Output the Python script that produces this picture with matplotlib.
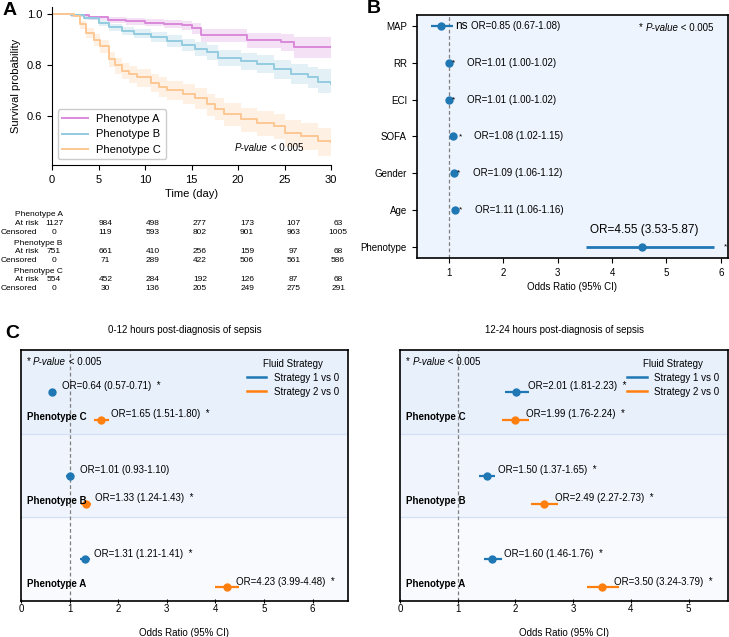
import numpy as np
import matplotlib
matplotlib.use('Agg')
import matplotlib.pyplot as plt

plt.rcParams['font.family'] = ['Liberation Sans', 'DejaVu Sans']

# ---------------- panel A : Kaplan-Meier curves ----------------
t_A = [0, 2, 4, 6, 8, 10, 12, 14, 15, 16, 21, 24.6, 26, 30]
s_A = [1.0, 0.995, 0.987, 0.977, 0.972, 0.967, 0.962, 0.957, 0.945, 0.917, 0.90, 0.892, 0.873, 0.873]
lo_A = [1.0, 0.99, 0.979, 0.966, 0.959, 0.952, 0.945, 0.938, 0.922, 0.89, 0.868, 0.857, 0.829, 0.827]
hi_A = [1.0, 0.999, 0.994, 0.987, 0.984, 0.981, 0.977, 0.974, 0.965, 0.94, 0.928, 0.922, 0.91, 0.911]

t_B = [0, 2, 3.4, 5, 6.1, 7.5, 8.8, 10.6, 12.4, 14, 15.4, 16.7, 17.8, 20.3, 22, 23.9, 25.7, 27.5, 28.6, 30]
s_B = [1.0, 0.995, 0.984, 0.965, 0.948, 0.935, 0.924, 0.911, 0.896, 0.88, 0.863, 0.85, 0.83, 0.817,
       0.804, 0.784, 0.765, 0.752, 0.736, 0.728]
lo_B = [1.0, 0.99, 0.976, 0.953, 0.933, 0.918, 0.905, 0.89, 0.873, 0.855, 0.835, 0.82, 0.798, 0.783,
        0.768, 0.746, 0.725, 0.71, 0.692, 0.67]
hi_B = [1.0, 0.999, 0.991, 0.976, 0.962, 0.951, 0.942, 0.931, 0.918, 0.904, 0.89, 0.878, 0.86, 0.849,
        0.838, 0.82, 0.803, 0.792, 0.785, 0.783]

t_C = [0, 2.4, 3, 3.7, 4.5, 5.2, 6.1, 6.8, 7.5, 8.3, 9.1, 10.6, 11.5, 12.4, 14.1, 15.4, 16.7, 17.5,
       18.5, 20.3, 22, 23.9, 25, 26.8, 28.6, 30]
s_C = [1.0, 0.994, 0.96, 0.928, 0.9, 0.876, 0.824, 0.80, 0.778, 0.765, 0.752, 0.732, 0.716, 0.702,
       0.689, 0.67, 0.647, 0.63, 0.608, 0.588, 0.575, 0.562, 0.536, 0.523, 0.503, 0.50]
lo_C = [1.0, 0.987, 0.943, 0.906, 0.875, 0.848, 0.793, 0.767, 0.744, 0.73, 0.716, 0.694, 0.677, 0.662,
        0.647, 0.627, 0.602, 0.584, 0.561, 0.539, 0.524, 0.509, 0.481, 0.466, 0.444, 0.439]
hi_C = [1.0, 0.999, 0.974, 0.947, 0.922, 0.9, 0.852, 0.83, 0.809, 0.797, 0.785, 0.767, 0.752, 0.739,
        0.728, 0.71, 0.689, 0.673, 0.652, 0.633, 0.621, 0.609, 0.585, 0.573, 0.555, 0.555]

km_names = ['Phenotype A', 'Phenotype B', 'Phenotype C']
km_colors = ['#da8ada', '#93cbe0', '#fcc793']

risk_times = [0, 5, 10, 15, 20, 25, 30]
at_risk = [[1127, 984, 498, 277, 173, 107, 63],
           [751, 661, 410, 256, 159, 97, 68],
           [554, 452, 284, 192, 126, 87, 68]]
censored = [[0, 119, 593, 802, 901, 963, 1005],
            [0, 71, 289, 422, 506, 561, 586],
            [0, 30, 136, 205, 249, 275, 291]]

# ---------------- panel B : multivariable OR ----------------
vars_B = ['Phenotype', 'Age', 'Gender', 'SOFA', 'ECI', 'RR', 'MAP']
or_B = [4.55, 1.11, 1.09, 1.08, 1.01, 1.01, 0.85]
orlo_B = [3.53, 1.06, 1.06, 1.02, 1.00, 1.00, 0.67]
orhi_B = [5.87, 1.16, 1.12, 1.15, 1.02, 1.02, 1.08]
sig_B = ['*', '*', '*', '*', '*', '*', 'ns']

# ---------------- panel C : fluid strategy by phenotype ----------------
phen_C = ['Phenotype A', 'Phenotype B', 'Phenotype C']
s1_or_early = [1.31, 1.01, 0.64]
s1_lo_early = [1.21, 0.93, 0.57]
s1_hi_early = [1.41, 1.10, 0.71]
s1_sig_early = [True, False, True]
s2_or_early = [4.23, 1.33, 1.65]
s2_lo_early = [3.99, 1.24, 1.51]
s2_hi_early = [4.48, 1.43, 1.80]
s2_sig_early = [True, True, True]

s1_or_late = [1.60, 1.50, 2.01]
s1_lo_late = [1.46, 1.37, 1.81]
s1_hi_late = [1.76, 1.65, 2.23]
s1_sig_late = [True, True, True]
s2_or_late = [3.50, 2.49, 1.99]
s2_lo_late = [3.24, 2.27, 1.76]
s2_hi_late = [3.79, 2.73, 2.24]
s2_sig_late = [True, True, True]

band_colors = ['#f8fafe', '#f0f5fd', '#e8f0fb']
blue = '#1f77b4'
orange = '#ff7f0e'


def pvalue_text(ax, x, y, prefix, fs):
    # "* P-value < 0.005" with italic "P-value"
    t = ax.text(x, y, prefix, transform=ax.transAxes, fontsize=fs, va='center', ha='left')
    t = ax.annotate('P-value', xy=(1, 0), xycoords=t, fontsize=fs, style='italic', va='bottom')
    ax.annotate(' < 0.005', xy=(1, 0), xycoords=t, fontsize=fs, va='bottom')


fig = plt.figure(figsize=(7.29, 6.37), dpi=100)

# ======== A ========
axA = fig.add_axes([0.0713, 0.741, 0.383, 0.248])
for t, s, lo, hi, name, c in zip([t_A, t_B, t_C], [s_A, s_B, s_C], [lo_A, lo_B, lo_C],
                                 [hi_A, hi_B, hi_C], km_names, km_colors):
    axA.fill_between(t, lo, hi, step='post', color=c, alpha=0.25, lw=0)
    axA.step(t, s, where='post', color=c, lw=1.4, label=name)
axA.set_xlim(0, 30)
axA.set_ylim(0.409, 1.028)
axA.set_xticks(risk_times)
axA.set_yticks([0.6, 0.8, 1.0])
axA.tick_params(labelsize=8, length=3.5, width=0.8)
axA.spines['top'].set_visible(False)
axA.spines['right'].set_visible(False)
axA.set_xlabel('Time (day)', fontsize=8, labelpad=3)
axA.set_ylabel('Survival probability', fontsize=8)
axA.legend(loc='lower left', fontsize=8, handlelength=2.3, fancybox=True, framealpha=1,
           edgecolor='#cccccc')
pvalue_text(axA, 0.656, 0.078, '', 7)

# at-risk table
col_shift = [1.5, 5, 5.5, 6, 6.5, 6.5, 5]
for k in range(3):
    y0 = -0.316 - 0.178 * k
    axA.text(-0.048, y0, km_names[k], transform=axA.transAxes, fontsize=6, ha='center', va='center')
    axA.text(-0.05, y0 - 0.054, 'At risk', transform=axA.transAxes, fontsize=6, ha='right', va='center')
    axA.text(-0.054, y0 - 0.111, 'Censored', transform=axA.transAxes, fontsize=6, ha='right', va='center')
    for j, tt in enumerate(risk_times):
        axA.annotate(str(at_risk[k][j]), xy=(tt, y0 - 0.054), xycoords=('data', 'axes fraction'),
                     xytext=(col_shift[j], 0), textcoords='offset points',
                     fontsize=6, ha='center', va='center', annotation_clip=False)
        axA.annotate(str(censored[k][j]), xy=(tt, y0 - 0.111), xycoords=('data', 'axes fraction'),
                     xytext=(col_shift[j], 0), textcoords='offset points',
                     fontsize=6, ha='center', va='center', annotation_clip=False)

# ======== B ========
axB = fig.add_axes([0.5716, 0.595, 0.427, 0.3815])
axB.set_facecolor('#eef4fd')
yB = np.arange(len(vars_B))
axB.axvline(1, color='#808080', ls='--', lw=0.9, dashes=(3, 2))
for i in range(len(vars_B)):
    lw = 2.0 if vars_B[i] == 'Phenotype' else 1.6
    axB.errorbar(or_B[i], yB[i], xerr=[[or_B[i] - orlo_B[i]], [orhi_B[i] - or_B[i]]],
                 fmt='o', color=blue, ms=5, lw=lw, capsize=0)
    txt = 'OR=%.2f (%.2f-%.2f)' % (or_B[i], orlo_B[i], orhi_B[i])
    if vars_B[i] == 'Phenotype':
        axB.text(orlo_B[i] + 0.06, yB[i] + 0.45, txt, fontsize=8.5, va='center', ha='left')
        axB.text(orhi_B[i] + 0.19, yB[i], sig_B[i], fontsize=6, va='center', ha='left', clip_on=False)
    else:
        fs = 8.5 if sig_B[i] == 'ns' else 6
        axB.text(orhi_B[i] + 0.03, yB[i], sig_B[i], fontsize=fs, va='center', ha='left')
        axB.text(orhi_B[i] + 0.32, yB[i], txt, fontsize=7, va='center', ha='left')
axB.set_yticks(yB)
axB.set_yticklabels(vars_B)
axB.set_xticks([1, 2, 3, 4, 5, 6])
axB.tick_params(labelsize=7)
axB.set_xlabel('Odds Ratio (95% CI)', fontsize=7, labelpad=3)
for sp in axB.spines.values():
    sp.set_linewidth(1.2)
pvalue_text(axB, 0.714, 0.948, '* ', 7)


# ======== C ========
def forest_c(ax, or1, lo1, hi1, sig1, or2, lo2, hi2, sig2, title, xmax):
    for i in range(3):
        ax.axhspan(i, i + 1, color=band_colors[i], lw=0, zorder=0)
    ax.axhline(1, color='#d3e0f5', lw=0.9, zorder=1)
    ax.axhline(2, color='#d3e0f5', lw=0.9, zorder=1)
    ax.axvline(1, color='#808080', ls='--', lw=0.9, dashes=(3, 2), zorder=1)
    for i in range(3):
        y1 = i + 0.5
        y2 = i + 0.165
        ax.errorbar(or1[i], y1, xerr=[[or1[i] - lo1[i]], [hi1[i] - or1[i]]], fmt='o', color=blue,
                    ms=5, lw=1.6, capsize=0, zorder=3)
        ax.errorbar(or2[i], y2, xerr=[[or2[i] - lo2[i]], [hi2[i] - or2[i]]], fmt='o', color=orange,
                    ms=5, lw=1.6, capsize=0, zorder=3)
        t1 = 'OR=%.2f (%.2f-%.2f)' % (or1[i], lo1[i], hi1[i]) + ('  *' if sig1[i] else '')
        t2 = 'OR=%.2f (%.2f-%.2f)' % (or2[i], lo2[i], hi2[i]) + ('  *' if sig2[i] else '')
        ax.annotate(t1, xy=(or1[i] + 0.2, y1), xytext=(0, 4), textcoords='offset points',
                    fontsize=7, va='center', ha='left', zorder=4)
        ax.annotate(t2, xy=(or2[i] + 0.2, y2), xytext=(0, 4), textcoords='offset points',
                    fontsize=7, va='center', ha='left', zorder=4)
        ax.text(0.017, i + 0.2, phen_C[i], transform=ax.get_yaxis_transform(), fontsize=7,
                weight='bold', va='center', ha='left', zorder=4)
    ax.plot([], [], color=blue, lw=1.8, label='Strategy 1 vs 0')
    ax.plot([], [], color=orange, lw=1.8, label='Strategy 2 vs 0')
    ax.legend(loc='upper right', title='Fluid Strategy', fontsize=7, title_fontsize=7,
              frameon=False, labelspacing=0.4)
    pvalue_text(ax, 0.017, 0.952, '* ', 7)
    ax.set_xlim(0, xmax)
    ax.set_ylim(0, 3)
    ax.set_yticks([])
    ax.set_xticks(range(int(xmax) + 1))
    ax.tick_params(axis='x', labelsize=7, direction='inout', length=3, pad=1)
    ax.set_xlabel('Odds Ratio (95% CI)', fontsize=7, labelpad=10)
    ax.set_title(title, fontsize=7, pad=12)
    for sp in ax.spines.values():
        sp.set_linewidth(1.2)


axC1 = fig.add_axes([0.0288, 0.0565, 0.4482, 0.394])
forest_c(axC1, s1_or_early, s1_lo_early, s1_hi_early, s1_sig_early,
         s2_or_early, s2_lo_early, s2_hi_early, s2_sig_early,
         '0-12 hours post-diagnosis of sepsis', max(s2_hi_early) * 1.5)
axC2 = fig.add_axes([0.5487, 0.0565, 0.4503, 0.394])
forest_c(axC2, s1_or_late, s1_lo_late, s1_hi_late, s1_sig_late,
         s2_or_late, s2_lo_late, s2_hi_late, s2_sig_late,
         '12-24 hours post-diagnosis of sepsis', max(s2_hi_late) * 1.5)

fig.text(0.004, 0.984, 'A', fontsize=14, weight='bold', va='center', ha='left')
fig.text(0.503, 0.986, 'B', fontsize=14, weight='bold', va='center', ha='left')
fig.text(0.007, 0.477, 'C', fontsize=14, weight='bold', va='center', ha='left')

fig.savefig('out.png', dpi=100)
